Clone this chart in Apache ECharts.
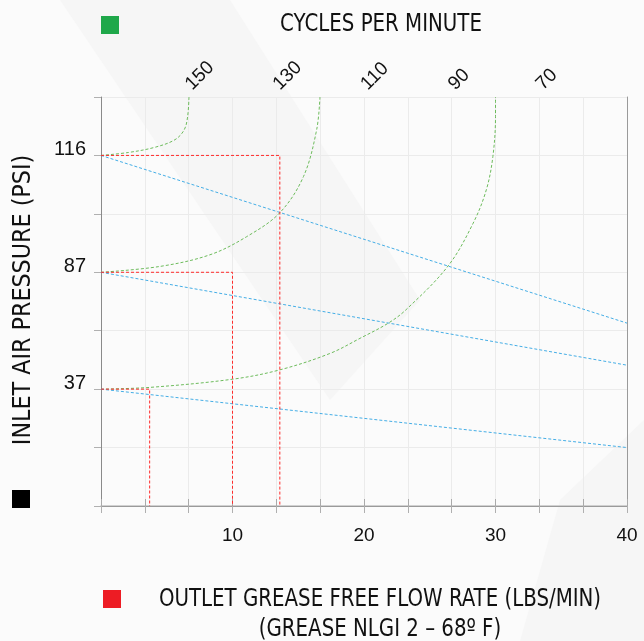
<!DOCTYPE html>
<html>
<head>
<meta charset="utf-8">
<script src="https://cdn.jsdelivr.net/npm/echarts@6/dist/echarts.min.js"></script>
<style>
  html, body { margin: 0; padding: 0; background: #fbfbfb; }
  #chart { width: 644px; height: 641px; }
</style>
</head>
<body>
<div id="chart"></div>
<script>
// x axis: outlet flow rate (lbs/min), labelled every 10
const flowLabels = [10, 20, 30, 40]
// top axis: cycles per minute
const cpmLabels = [150, 130, 110, 90, 70]
// y axis is a stepped grid (0..7), only some steps carry a pressure
const pressureLabels = ['', '', '37', '', '87', '', '116', '']

// red: flow at each inlet pressure
const red116 = [[0, 6], [13.6, 6], [13.6, 0]]
const red87 = [[0, 4], [10, 4], [10, 0]]
const red37 = [[0, 2], [3.7, 2], [3.7, 0]]

// blue: pressure drop lines
const blue116 = [[0, 6], [40, 3.13]]
const blue87 = [[0, 4], [40, 2.41]]
const blue37 = [[0, 2], [40, 1.0]]

// green: cycles curves
const green116 = [[0, 6], [2.07, 6.05], [4.11, 6.14], [5.63, 6.27], [6.33, 6.44], [6.59, 6.67], [6.69, 7]]
const green87 = [[0, 4], [4.48, 4.1], [8.29, 4.3], [11.08, 4.61], [13.6, 5.02], [15.4, 5.64], [16.4, 6.44], [16.65, 7]]
const green37 = [[0, 2], [3.72, 2.03], [10, 2.17], [13.6, 2.33], [17.4, 2.61], [19.7, 2.87], [21.85, 3.13],
  [23.2, 3.36], [26.4, 4.11], [28.3, 4.84], [29.3, 5.41], [29.8, 5.98], [30, 6.67], [30, 7]]

const narrow = '"DejaVu Sans Condensed", "DejaVu Sans", sans-serif'
const plain = '"Liberation Sans", Arial, sans-serif'

const isNear = (v, list) => list.find(t => Math.abs(v - t) < 1e-6)

function dashed(data, color, smooth) {
  return {
    type: 'line',
    data: data,
    smooth: smooth ? 0.35 : false,
    showSymbol: false,
    silent: true,
    lineStyle: { color: color, width: 1, type: [3, 2] }
  }
}

function title(text, x, y, rot, sx) {
  return {
    type: 'text', x: x, y: y, rotation: rot || 0, scaleX: sx || 0.88,
    style: { text: text, font: '25px ' + narrow, fill: '#111', align: 'center', verticalAlign: 'middle' }
  }
}

const chart = echarts.init(document.getElementById('chart'))
chart.setOption({
  backgroundColor: '#fbfbfb',
  animation: false,
  grid: { left: 101, right: 17, top: 97, bottom: 135 },
  xAxis: [
    {
      type: 'value',
      position: 'bottom',
      min: 0,
      max: 40,
      interval: 40 / 12,
      axisLine: { lineStyle: { color: '#c4c4c4', width: 1.5 } },
      axisTick: { show: true, length: 7, lineStyle: { color: '#b0b0b0' } },
      splitLine: { show: true, lineStyle: { color: '#ebebeb' } },
      axisLabel: {
        margin: 20,
        fontSize: 19,
        fontFamily: plain,
        color: '#111',
        formatter: v => {
          const t = isNear(v, flowLabels)
          return t ? String(t) : ''
        }
      }
    },
    {
      type: 'value',
      position: 'top',
      inverse: true,
      min: 50,
      max: 170,
      interval: 10,
      axisLine: { lineStyle: { color: '#9a9a9a' } },
      axisTick: { show: true, length: 7, lineStyle: { color: '#aaa' } },
      splitLine: { show: false },
      axisLabel: {
        rotate: 45,
        margin: 10,
        fontSize: 19,
        fontFamily: plain,
        color: '#111',
        formatter: v => {
          const t = isNear(v, cpmLabels)
          return t ? String(t) : ''
        }
      }
    }
  ],
  yAxis: [
    {
      type: 'value',
      min: 0,
      max: 7,
      interval: 1,
      axisLine: { show: true, lineStyle: { color: '#8a8a8a' } },
      axisTick: { show: true, length: 7, lineStyle: { color: '#b0b0b0' } },
      splitLine: { show: true, lineStyle: { color: '#ebebeb' } },
      axisLabel: {
        margin: 15,
        fontSize: 20,
        fontFamily: plain,
        color: '#111',
        verticalAlign: 'bottom',
        lineHeight: 12,
        formatter: v => pressureLabels[Math.round(v)] || ''
      }
    },
    {
      type: 'value',
      position: 'right',
      min: 0,
      max: 7,
      interval: 1,
      axisLine: { show: true, lineStyle: { color: '#9a9a9a' } },
      axisTick: { show: false },
      axisLabel: { show: false },
      splitLine: { show: false }
    }
  ],
  graphic: [
    // faint background shapes
    { type: 'polygon', z: -10, shape: { points: [[60, 0], [230, 0], [420, 300], [330, 400]] }, style: { fill: '#f6f6f6' } },
    { type: 'polygon', z: -10, shape: { points: [[560, 500], [644, 420], [644, 641], [520, 641]] }, style: { fill: '#f6f6f6' } },
    // legend squares and titles
    { type: 'rect', shape: { x: 101, y: 16, width: 18, height: 18 }, style: { fill: '#1fa84a' } },
    { type: 'rect', shape: { x: 12, y: 490, width: 18, height: 18 }, style: { fill: '#000' } },
    { type: 'rect', shape: { x: 103, y: 590, width: 18, height: 18 }, style: { fill: '#ed1c24' } },
    title('CYCLES PER MINUTE', 381, 24),
    title('INLET AIR PRESSURE (PSI)', 23, 300, Math.PI / 2, 0.99),
    title('OUTLET GREASE FREE FLOW RATE (LBS/MIN)', 380, 599),
    title('(GREASE NLGI 2 \u2013 68\u00ba F)', 380, 629)
  ],
  series: [
    dashed(green116, '#6dbb5c', true),
    dashed(green87, '#6dbb5c', true),
    dashed(green37, '#6dbb5c', true),
    dashed(blue116, '#45aee6', false),
    dashed(blue87, '#45aee6', false),
    dashed(blue37, '#45aee6', false),
    dashed(red116, '#ff2b2b', false),
    dashed(red87, '#ff2b2b', false),
    dashed(red37, '#ff2b2b', false)
  ]
})
</script>
</body>
</html>
